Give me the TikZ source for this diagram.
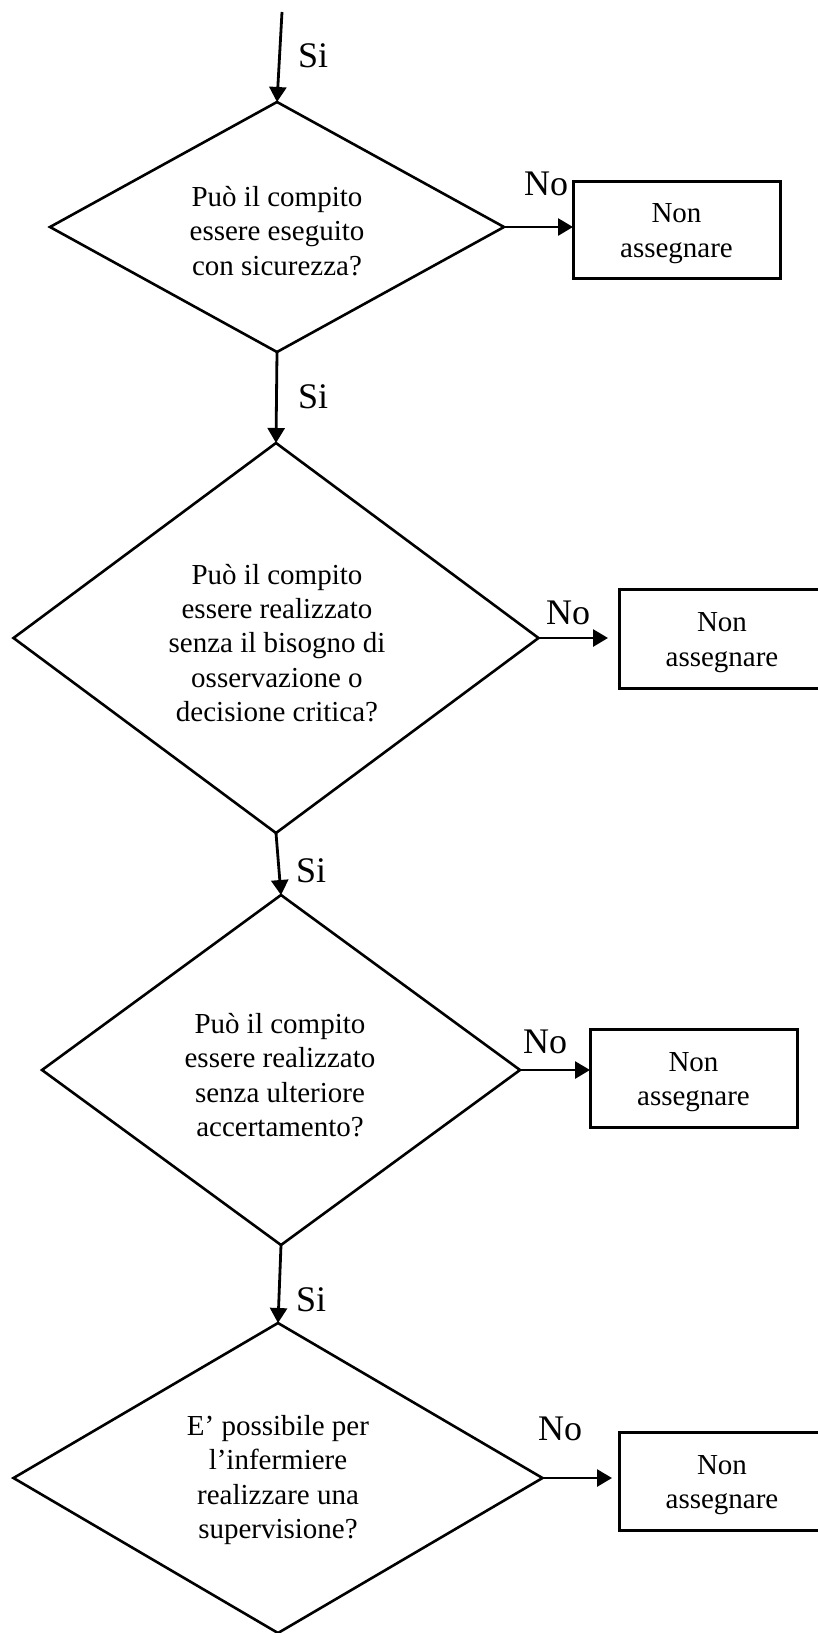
\documentclass[tikz,border=0pt]{standalone}
\usepackage{fontspec}
\setmainfont{Liberation Serif}
\usetikzlibrary{shapes.geometric,arrows.meta}
\begin{document}
\begin{tikzpicture}[x=1pt,y=-1pt,
  decision/.style={draw,shape=diamond,line width=2.6pt,inner sep=0pt,outer sep=0pt},
  qtext/.style={align=center,font=\fontsize{29}{34.3}\selectfont,inner sep=0pt},
  outbox/.style={draw,rectangle,line width=3pt,inner sep=0pt,outer sep=0pt},
  flow/.style={line width=2.8pt,-{Triangle[length=15pt,width=17pt]}},
  lbl/.style={anchor=base west,inner sep=0pt,font=\fontsize{36}{40}\selectfont}]
\useasboundingbox (0,0) rectangle (817,1633);
\coordinate (start) at (282,12);
% diamonds
\node[decision,minimum width=454pt,minimum height=250pt] (d1) at (277,227) {};
\node[decision,minimum width=525pt,minimum height=390pt] (d2) at (276,638) {};
\node[decision,minimum width=478pt,minimum height=350pt] (d3) at (281,1070) {};
\node[decision,minimum width=529pt,minimum height=310pt] (d4) at (278,1478) {};
\node[qtext] (t1) at (277,231) {Può il compito\\essere eseguito\\con sicurezza?};
\node[qtext] (t2) at (277,643) {Può il compito\\essere realizzato\\senza il bisogno di\\osservazione o\\decisione critica?};
\node[qtext] (t3) at (280,1075) {Può il compito\\essere realizzato\\senza ulteriore\\accertamento?};
\node[qtext] (t4) at (278,1480) {E’ possibile per\\l’infermiere\\realizzare una\\supervisione?};
% boxes
\node[outbox,minimum width=207pt,minimum height=97pt] (b1) at (676.5,229.5) {};
\node[outbox,minimum width=206pt,minimum height=99pt] (b2) at (722,638.5) {};
\node[outbox,minimum width=207pt,minimum height=98pt] (b3) at (693.5,1078) {};
\node[outbox,minimum width=206pt,minimum height=98pt] (b4) at (722,1481) {};
\node[qtext] (bt1) at ([yshift=-4pt]b1.center) {Non\\assegnare};
\node[qtext] (bt2) at ([yshift=-4pt]b2.center) {Non\\assegnare};
\node[qtext] (bt3) at ([yshift=-4pt]b3.center) {Non\\assegnare};
\node[qtext] (bt4) at ([yshift=-4pt]b4.center) {Non\\assegnare};
% connectors
\draw[flow] (start) -- (d1.north);
\draw[flow] (d1.south) -- (d2.north);
\draw[flow] (d2.south) -- (d3.north);
\draw[flow] (d3.south) -- (d4.north);
\draw[flow] (d1.east) -- (d1.east -| b1.west);
\draw[flow,shorten >=11pt] (d2.east) -- (d2.east -| b2.west);
\draw[flow] (d3.east) -- (d3.east -| b3.west);
\draw[flow,shorten >=7pt] (d4.east) -- (d4.east -| b4.west);
% labels
\node[lbl] (s1) at (298,67) {Si};
\node[lbl] (s2) at (298,408) {Si};
\node[lbl] (s3) at (296,882) {Si};
\node[lbl] (s4) at (296,1311) {Si};
\node[lbl] (n1) at (524,195) {No};
\node[lbl] (n2) at (546,624) {No};
\node[lbl] (n3) at (523,1053) {No};
\node[lbl] (n4) at (538,1440) {No};
\end{tikzpicture}
\end{document}
